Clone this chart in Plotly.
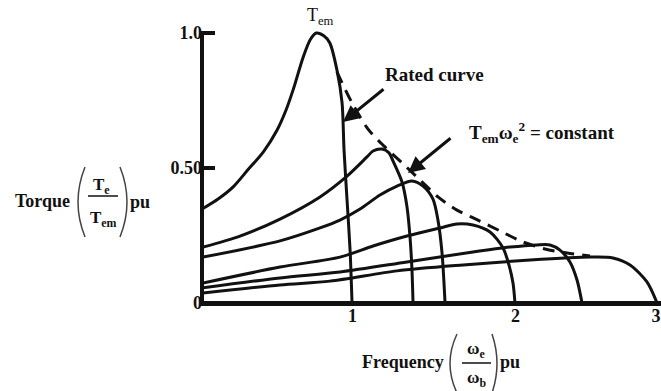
import plotly.graph_objects as go

W, H = 661, 391

# ---------------- data (frequency pu, torque pu) ----------------
c1_f = [0, 0.10, 0.20, 0.30, 0.40, 0.49, 0.55, 0.60, 0.66, 0.71, 0.75, 0.80, 0.84, 0.887, 0.921, 0.934, 0.954, 0.974, 0.987]
c1_t = [0.35, 0.385, 0.43, 0.495, 0.56, 0.64, 0.715, 0.795, 0.905, 0.975, 1.00, 0.99, 0.963, 0.863, 0.741, 0.567, 0.381, 0.196, 0]

c2_f = [0, 0.245, 0.51, 0.775, 0.954, 1.086, 1.126, 1.185, 1.232, 1.258, 1.318, 1.351, 1.371, 1.384, 1.391]
c2_t = [0.207, 0.248, 0.311, 0.393, 0.470, 0.541, 0.563, 0.570, 0.556, 0.526, 0.448, 0.356, 0.244, 0.122, 0]

c3_f = [0, 0.51, 0.775, 0.907, 1.04, 1.172, 1.285, 1.384, 1.457, 1.523, 1.556, 1.583, 1.603]
c3_t = [0.170, 0.230, 0.278, 0.307, 0.348, 0.400, 0.433, 0.452, 0.433, 0.385, 0.307, 0.185, 0]

c4_f = [0, 0.51, 0.907, 1.126, 1.351, 1.570, 1.682, 1.788, 1.901, 1.987, 2.026, 2.053, 2.066]
c4_t = [0.074, 0.133, 0.170, 0.211, 0.248, 0.278, 0.293, 0.289, 0.263, 0.204, 0.141, 0.074, 0]

c5_f = [0, 0.51, 0.907, 1.351, 1.788, 2.033, 2.212, 2.298, 2.364, 2.430, 2.477, 2.510]
c5_t = [0.056, 0.093, 0.115, 0.152, 0.189, 0.207, 0.215, 0.215, 0.196, 0.152, 0.085, 0]

c6_f = [0, 0.51, 0.841, 1.285, 1.722, 2.166, 2.563, 2.715, 2.828, 2.940, 3.007]
c6_t = [0.037, 0.067, 0.081, 0.119, 0.141, 0.159, 0.170, 0.167, 0.141, 0.078, 0]

# constant T_em * w_e^2 envelope (dashed)
env_f = [0.887, 0.987, 1.093, 1.199, 1.318, 1.437, 1.556, 1.682, 1.821, 1.967, 2.119, 2.265, 2.411, 2.563]
env_t = [0.856, 0.741, 0.644, 0.581, 0.519, 0.456, 0.393, 0.344, 0.307, 0.267, 0.226, 0.200, 0.185, 0.174]

y_tick_vals = [0, 0.5, 1.0]
y_tick_text = ["0", "0.50", "1.0"]
x_tick_vals = [0.99, 2.07, 3.0]
x_tick_text = ["1", "2", "3"]

curves = [(c1_f, c1_t), (c2_f, c2_t), (c3_f, c3_t), (c4_f, c4_t), (c5_f, c5_t), (c6_f, c6_t)]

# ---------------- figure ----------------
FONT = "Liberation Serif"
INK = "#111111"

def px(x):
    return x / W

def py(y):
    return 1 - y / H

fig = go.Figure()
for f, t in curves:
    fig.add_trace(go.Scatter(x=f, y=t, mode="lines",
                             line=dict(color=INK, width=3, shape="spline", smoothing=0.8),
                             hoverinfo="skip", showlegend=False))
fig.add_trace(go.Scatter(x=env_f, y=env_t, mode="lines",
                         line=dict(color=INK, width=3, dash="12px,8px", shape="spline", smoothing=0.8),
                         hoverinfo="skip", showlegend=False))

x0_px, xr_px = 203, 151.0   # pixel of 0, pixels per unit
y0_px, yr_px = 303, 270.0
top_px = 13

fig.update_layout(
    width=W, height=H,
    margin=dict(l=0, r=0, t=0, b=0),
    paper_bgcolor="white", plot_bgcolor="white",
    showlegend=False,
    xaxis=dict(domain=[px(x0_px), 1], range=[0, (W - x0_px) / xr_px],
               showgrid=False, zeroline=False, showline=False,
               tickvals=x_tick_vals, ticktext=x_tick_text, ticks="",
               tickfont=dict(family=FONT, size=18, color=INK, weight="bold"),
               automargin=False, fixedrange=True),
    yaxis=dict(domain=[py(y0_px), py(top_px)], range=[0, (y0_px - top_px) / yr_px],
               showgrid=False, zeroline=False, showline=False,
               tickvals=y_tick_vals, ticktext=y_tick_text, ticks="inside",
               ticklen=12, tickwidth=4, tickcolor=INK,
               tickfont=dict(family=FONT, size=18, color=INK, weight="bold"),
               automargin=False, fixedrange=True),
)

shapes = []
# axis lines
shapes.append(dict(type="line", xref="paper", yref="paper", x0=px(202), x1=px(202), y0=py(306), y1=py(31),
                   line=dict(color=INK, width=4)))
shapes.append(dict(type="line", xref="paper", yref="paper", x0=px(200), x1=1, y0=py(303.5), y1=py(303.5),
                   line=dict(color=INK, width=5)))

def paren(xe, xm, y0, y1, color="#444444"):
    cx = 2 * xm - xe
    ym = (y0 + y1) / 2
    return dict(type="path", xref="paper", yref="paper",
                path=f"M {px(xe)},{py(y0)} Q {px(cx)},{py(ym)} {px(xe)},{py(y1)}",
                line=dict(color=color, width=1.5))

# y-title parentheses and fraction bar
shapes.append(paren(85, 78, 167, 237))
shapes.append(paren(120, 127, 167, 237))
shapes.append(dict(type="line", xref="paper", yref="paper", x0=px(88), x1=px(118), y0=py(196), y1=py(196),
                   line=dict(color=INK, width=1.5)))
# x-title parentheses and fraction bar
shapes.append(paren(457, 450, 334, 393))
shapes.append(paren(492, 497, 334, 393))
shapes.append(dict(type="line", xref="paper", yref="paper", x0=px(462), x1=px(491), y0=py(363), y1=py(363),
                   line=dict(color=INK, width=1.5)))
fig.update_layout(shapes=shapes)

def txt(x, y, s, size=18, bold=True, xanchor="center"):
    return dict(x=px(x), y=py(y), xref="paper", yref="paper", text=s, showarrow=False,
                xanchor=xanchor, yanchor="middle",
                font=dict(family=FONT, size=size, color=INK, weight="bold" if bold else "normal"))

ann = [
    txt(13, 201, "Torque", xanchor="left"),
    txt(101, 186, "T<sub>e</sub>", size=17),
    txt(103, 219, "T<sub>em</sub>", size=17),
    txt(128, 202, "pu", xanchor="left"),
    txt(360, 362, "Frequency", xanchor="left"),
    txt(476, 350, "ω<sub>e</sub>", size=17),
    txt(476, 379, "ω<sub>b</sub>", size=17),
    txt(498, 362, "pu", xanchor="left"),
    txt(305, 16, "T<sub>em</sub>", size=18, bold=False, xanchor="left"),
    txt(383, 75, "Rated curve", size=19, xanchor="left"),
    txt(467, 132, "T<sub>em</sub>ω<sub>e</sub><sup>2</sup> = constant", size=19, xanchor="left"),
]
# arrows
for hx, hy, tx, ty in [(343, 122, 385, 88), (408, 173, 452, 137)]:
    ann.append(dict(x=px(hx), y=py(hy), xref="paper", yref="paper", text="",
                    showarrow=True, ax=tx - hx, ay=ty - hy, axref="pixel", ayref="pixel",
                    arrowhead=2, arrowsize=1.1, arrowwidth=3, arrowcolor=INK, standoff=0))
fig.update_layout(annotations=ann)

fig.write_html("out.html")
